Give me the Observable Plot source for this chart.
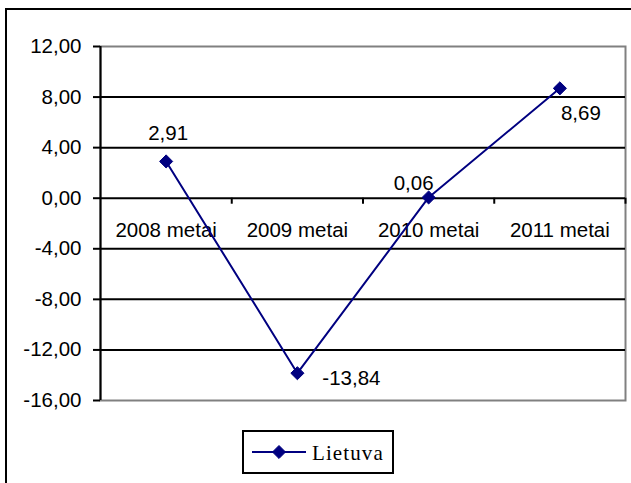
<!DOCTYPE html>
<html>
<head>
<meta charset="utf-8">
<script src="https://cdn.jsdelivr.net/npm/d3@7"></script>
<script src="https://cdn.jsdelivr.net/npm/@observablehq/plot@0.6"></script>
<style>
  html, body { margin: 0; padding: 0; background: #fff; }
  #chart svg { display: block; }
</style>
</head>
<body>
<div id="chart"></div>
<script>
// Annual change, Lietuva (%)
const categories = ["2008 metai", "2009 metai", "2010 metai", "2011 metai"];
const values = [2.91, -13.84, 0.06, 8.69];
const seriesName = "Lietuva";
const yTicks = [-16, -12, -8, -4, 0, 4, 8, 12];

// label placement relative to each point (px)
const labelDx = [2, 54, -15, 21];
const labelDy = [-28, 5, -14, 25];

const data = categories.map((c, i) => ({i, category: c, value: values[i]}));
const fmt = v => v.toFixed(2).replace(".", ",");
const navy = "#000080";
const sans = "'Liberation Sans', Arial, sans-serif";
const fs = 20.5;

const W = 631, H = 483;
const boundaries = categories.map((_, i) => i + 0.5);
const gridVals = yTicks.filter(v => v > -16 && v < 12);

const chart = Plot.plot({
  width: W,
  height: H,
  marginLeft: 100,
  marginRight: 6,
  marginTop: 46,
  marginBottom: 83,
  style: {fontFamily: sans, fontSize: fs + "px", color: "#000", background: "#fff", overflow: "visible"},
  x: {type: "linear", domain: [-0.5, categories.length - 0.5], axis: null},
  y: {domain: [-16, 12], axis: null, label: null},
  marks: [
    // plot-area border (grey)
    Plot.frame({stroke: "#808080", strokeWidth: 2}),
    // horizontal gridlines
    Plot.ruleY(gridVals, {stroke: "#000", strokeWidth: 2}),
    // vertical value axis line
    Plot.ruleX([-0.5], {y1: -16, y2: 12, stroke: "#000", strokeWidth: 2}),
    // value axis ticks and labels
    Plot.axisY(yTicks, {
      anchor: "left", label: null, tickSize: 7, tickPadding: 12,
      tickFormat: fmt, stroke: "#000", strokeWidth: 2, fontSize: fs, fill: "#000"
    }),
    // category ticks on the zero line
    Plot.ruleX(boundaries, {y1: 0, y2: 0, insetBottom: -6, stroke: "#000", strokeWidth: 2}),
    // category labels under the zero line
    Plot.text(data, {x: "i", y: () => 0, text: "category", dy: 32, fontSize: fs, fill: "#000"}),
    // series line and markers
    Plot.line(data, {x: "i", y: "value", stroke: navy, strokeWidth: 2}),
    Plot.dot(data, {x: "i", y: "value", symbol: "diamond2", r: 5.9, fill: navy, stroke: navy, strokeWidth: 1}),
    // value labels, each with its own offset
    ...data.map((d, k) => Plot.text([d], {
      x: "i", y: "value", text: p => fmt(p.value),
      dx: labelDx[k], dy: labelDy[k], fontSize: fs, fill: "#000"
    }))
  ]
});

const svg = d3.select(chart);
// outer chart border
svg.append("rect")
  .attr("x", 6).attr("y", 9).attr("width", W + 20).attr("height", H + 20)
  .attr("fill", "none").attr("stroke", "#000").attr("stroke-width", 2);

// legend
const lg = svg.append("g").attr("class", "legend");
lg.append("rect").attr("x", 243).attr("y", 431).attr("width", 150).attr("height", 42)
  .attr("fill", "#fff").attr("stroke", "#000").attr("stroke-width", 2);
lg.append("line").attr("x1", 252).attr("x2", 306).attr("y1", 452).attr("y2", 452)
  .attr("stroke", navy).attr("stroke-width", 2);
lg.append("path").attr("d", d3.symbol(d3.symbolDiamond2, 108)()).attr("transform", "translate(279,452)")
  .attr("fill", navy).attr("stroke", navy);
lg.append("text").attr("x", 312).attr("y", 460).text(seriesName)
  .attr("text-anchor", "start")
  .attr("font-family", "'Liberation Serif', 'Times New Roman', serif").attr("font-size", 21)
  .attr("letter-spacing", 1.1).attr("fill", "#000");

document.getElementById("chart").appendChild(chart);
</script>
</body>
</html>
